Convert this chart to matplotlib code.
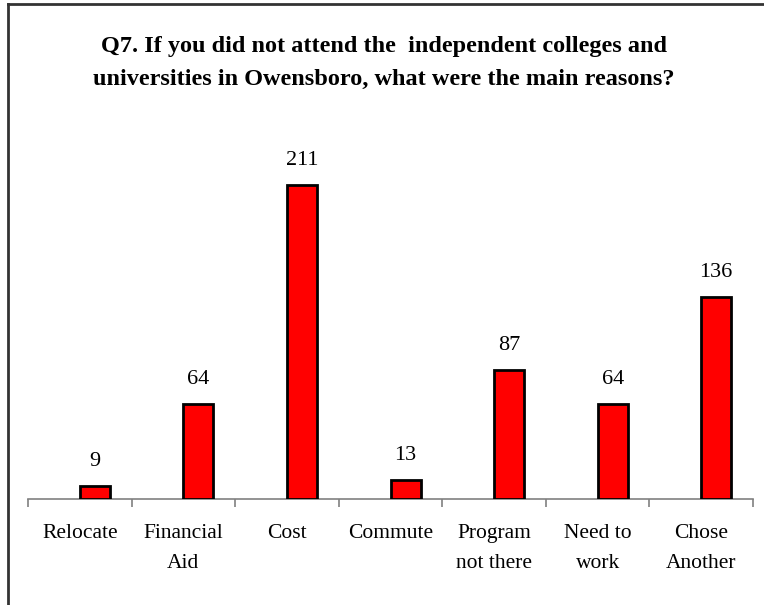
import matplotlib
matplotlib.use("Agg")
import matplotlib.pyplot as plt
import numpy as np
from matplotlib.lines import Line2D

# survey answers, Q7
reasons = ["Relocate", "Financial\nAid", "Cost", "Commute", "Program\nnot there",
           "Need to\nwork", "Chose\nAnother"]
counts = [9, 64, 211, 13, 87, 64, 136]
title = ("Q7. If you did not attend the  independent colleges and\n"
         "universities in Owensboro, what were the main reasons?")

plt.rcParams["font.family"] = ["Liberation Serif", "DejaVu Serif"]

W, H = 764, 605
fig = plt.figure(figsize=(W / 100, H / 100), dpi=100)

# chart frame: only the top and left edges fall inside the image
fig.add_artist(Line2D([7.5 / W, 7.5 / W], [0, 1 - 3.5 / H], color="#333333",
                      lw=2, transform=fig.transFigure))
fig.add_artist(Line2D([7.5 / W, 1], [1 - 3.5 / H, 1 - 3.5 / H], color="#333333",
                      lw=2, transform=fig.transFigure))

x0, x1, ybase, ytop = 28, 753, 499, 100
ax = fig.add_axes([x0 / W, 1 - ybase / H, (x1 - x0) / W, (ybase - ytop) / H])

x = np.arange(len(reasons))
bx = x + 0.145          # bars sit a little right of the category centre
ax.bar(bx, counts, width=0.29, color="#ff0000", edgecolor="black", lw=2,
       zorder=3)
for xi, v in zip(bx, counts):
    ax.text(xi, v + 10, str(v), ha="center", va="bottom", fontsize=16)

ax.set_xlim(-0.5, len(reasons) - 0.5)
ax.set_ylim(0, (ybase - ytop) / 1.4875)

for s in ("top", "right", "left"):
    ax.spines[s].set_visible(False)
ax.spines["bottom"].set_color("#808080")
ax.spines["bottom"].set_linewidth(1.2)
ax.set_yticks([])

ax.set_xticks(x)
ax.set_xticklabels(reasons, fontsize=15.5, linespacing=1.76)
ax.tick_params(axis="x", which="major", length=0, pad=18)
ax.set_xticks(np.arange(len(reasons) + 1) - 0.5, minor=True)
ax.tick_params(axis="x", which="minor", length=6, width=1.2, color="#808080",
               direction="out")

fig.text(384 / W, 1 - 63 / H, title, ha="center", va="center", fontsize=17.5,
         fontweight="bold", linespacing=1.8)

fig.savefig("out.png", dpi=100)
